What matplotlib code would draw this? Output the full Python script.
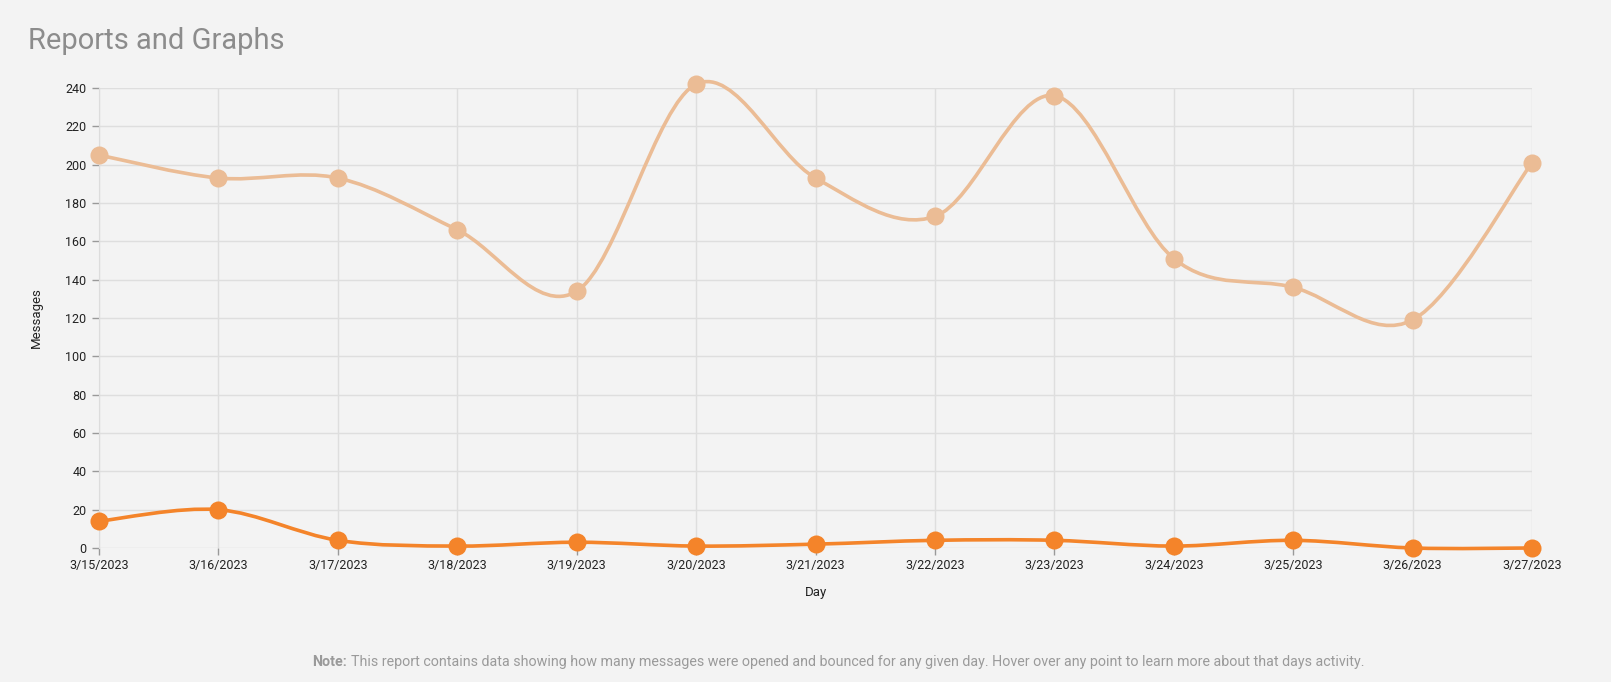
import matplotlib
matplotlib.use("Agg")
import matplotlib.pyplot as plt
from matplotlib.path import Path
from matplotlib.patches import PathPatch
import numpy as np

days = ["3/15/2023", "3/16/2023", "3/17/2023", "3/18/2023", "3/19/2023", "3/20/2023",
        "3/21/2023", "3/22/2023", "3/23/2023", "3/24/2023", "3/25/2023", "3/26/2023", "3/27/2023"]
opened = [205, 193, 193, 166, 134, 242, 193, 173, 236, 151, 136, 119, 201]
bounced = [14, 20, 4, 1, 3, 1, 2, 4, 4, 1, 4, 0, 0]
yticks = list(range(0, 241, 20))

BG = "#f3f3f3"
C_OPEN = "#ebbc95"
C_BOUNCE = "#f4842a"

plt.rcParams['font.family'] = ['Roboto', 'DejaVu Sans']

fig = plt.figure(figsize=(16.11, 6.82), dpi=100, facecolor=BG)
ax = fig.add_axes([0.0615, 0.1965, 0.8895, 0.6745])
ax.set_facecolor(BG)


def catmull_path(xs, ys):
    pts = np.column_stack([xs, ys]).astype(float)
    n = len(pts)
    verts = [pts[0]]
    codes = [Path.MOVETO]
    for i in range(n - 1):
        p0 = pts[i - 1] if i > 0 else pts[i]
        p1 = pts[i]
        p2 = pts[i + 1]
        p3 = pts[i + 2] if i + 2 < n else pts[i + 1]
        c1 = p1 + (p2 - p0) / 6.0
        c2 = p2 - (p3 - p1) / 6.0
        verts += [c1, c2, p2]
        codes += [Path.CURVE4] * 3
    return Path(verts, codes)


x = np.arange(len(days))
for ys, col in [(opened, C_OPEN), (bounced, C_BOUNCE)]:
    patch = PathPatch(catmull_path(x, ys), facecolor="none", edgecolor=col, lw=2.6,
                      zorder=3, capstyle="round", joinstyle="round", clip_on=False)
    ax.add_patch(patch)
    ax.plot(x, ys, "o", color=col, markersize=13, zorder=4, markeredgewidth=0, clip_on=False)

ax.set_xlim(0, len(days) - 1)
ax.set_ylim(0, 240)
ax.set_xticks(x)
ax.set_xticklabels(days, fontsize=9, color="#222222")
ax.set_yticks(yticks)
ax.set_yticklabels([str(t) for t in yticks], fontsize=9, color="#222222")
ax.grid(True, color="#dedede", lw=1, zorder=0)
for s in ["top", "right", "bottom"]:
    ax.spines[s].set_visible(False)
ax.spines["left"].set_color("#dcdcdc")
ax.tick_params(axis="both", length=5, color="#999999", width=1, pad=3)
ax.tick_params(axis="y", pad=4)

ax.set_xlabel("Day", fontsize=9.5, color="#222222", labelpad=10)
ax.set_ylabel("Messages", fontsize=9.5, color="#222222", labelpad=16)

fig.text(0.0175, 0.94, "Reports and Graphs", fontsize=21, color="#8c8c8c", va="center", ha="left")

note_y = 1 - 662 / 682
t1 = fig.text(0.194, note_y, "Note:", fontsize=10.3, color="#9a9a9a", fontweight="bold", va="center", ha="left")
fig.canvas.draw()
bb = t1.get_window_extent()
x2 = (bb.x1 + 4) / fig.bbox.width
fig.text(x2, note_y, "This report contains data showing how many messages were opened and bounced for any given day. Hover over any point to learn more about that days activity.",
         fontsize=10.3, color="#9a9a9a", va="center", ha="left")

fig.savefig("out.png", dpi=100, facecolor=BG)
